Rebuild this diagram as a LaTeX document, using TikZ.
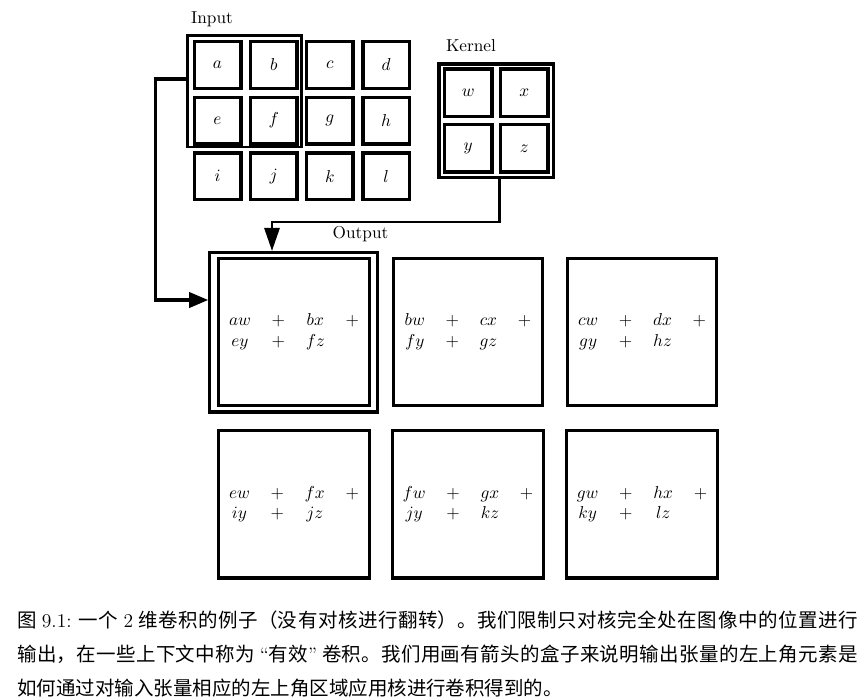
\documentclass[tikz,border=0pt]{standalone}
\usepackage{fontspec}
\newfontfamily\cjk{Noto Sans CJK SC}
\usetikzlibrary{arrows.meta}
\begin{document}
\begin{tikzpicture}[x=0.58pt,y=-0.58pt,
  cellbox/.style={draw,line width=2pt,minimum size=27pt,inner sep=0pt,font=\fontsize{10pt}{12pt}\selectfont},
  kcell/.style={draw,line width=2pt,minimum size=27.6pt,inner sep=0pt},
  hilite/.style={draw,line width=1.6pt,inner sep=0pt},
  outbox/.style={draw,line width=1.9pt,minimum width=86.2pt,minimum height=85.4pt,inner sep=0pt},
  lbl/.style={anchor=base,inner sep=0pt,font=\fontsize{10pt}{12pt}\selectfont},
  inarrow/.style={line width=1.8pt,-{Triangle[length=11pt,width=8.8pt]}},
  karrow/.style={line width=1.35pt,-{Triangle[length=13.3pt,width=8.8pt]}},
  capstyle/.style={anchor=north west,inner sep=0pt,text width=487.5pt,align=justify,
    font=\fontsize{11.3pt}{19.7pt}\selectfont\cjk}]
\useasboundingbox (0,0) rectangle (867,699);
% input cells
\node[cellbox] (a) at (217.5,65) {$a$};
\node[cellbox] (b) at (273.7,65) {$b$};
\node[cellbox] (c) at (329.9,65) {$c$};
\node[cellbox] (d) at (386.1,65) {$d$};
\node[cellbox] (e) at (217.5,120.6) {$e$};
\node[cellbox] (f) at (273.7,120.6) {$f$};
\node[cellbox] (g) at (329.9,120.6) {$g$};
\node[cellbox] (h) at (386.1,120.6) {$h$};
\node[cellbox] (i) at (217.5,176.2) {$i$};
\node[cellbox] (j) at (273.7,176.2) {$j$};
\node[cellbox] (k) at (329.9,176.2) {$k$};
\node[cellbox] (l) at (386.1,176.2) {$l$};
\node[hilite,minimum width=66.1pt,minimum height=64.6pt] (inbox) at (244.4,91.4) {};
\node[lbl] (inlbl) at (212,23.5) {Input};
% kernel
\node[kcell] (w) at (468.2,92.8) {$w$};
\node[kcell] (x) at (524.2,92.8) {$x$};
\node[kcell] (y) at (468.2,148.3) {$y$};
\node[kcell] (z) at (524.2,148.3) {$z$};
\node[draw,line width=1.9pt,minimum width=66.5pt,minimum height=65.9pt,inner sep=0pt] (kbox) at (496.2,120.7) {};
\node[lbl] (klbl) at (471,51.7) {Kernel};
% output
\node[outbox] (o11) at (294,332) {\begin{tabular}{cccc}$aw$&$+$&$bx$&$+$\\$ey$&$+$&$fz$&\end{tabular}};
\node[outbox] (o12) at (468,332) {\begin{tabular}{cccc}$bw$&$+$&$cx$&$+$\\$fy$&$+$&$gz$&\end{tabular}};
\node[outbox] (o13) at (642,332) {\begin{tabular}{cccc}$cw$&$+$&$dx$&$+$\\$gy$&$+$&$hz$&\end{tabular}};
\node[outbox] (o21) at (294,504.3) {\begin{tabular}{cccc}$ew$&$+$&$fx$&$+$\\$iy$&$+$&$jz$&\end{tabular}};
\node[outbox] (o22) at (468,504.3) {\begin{tabular}{cccc}$fw$&$+$&$gx$&$+$\\$jy$&$+$&$kz$&\end{tabular}};
\node[outbox] (o23) at (642,504.3) {\begin{tabular}{cccc}$gw$&$+$&$hx$&$+$\\$ky$&$+$&$lz$&\end{tabular}};
\node[draw,line width=1.9pt,minimum width=97.4pt,minimum height=92.4pt,inner sep=0pt] (obox) at (293.8,332.2) {};
\node[lbl] (olbl) at (360.5,238.3) {Output};
% connectors
\coordinate (inturn) at (155.7,300);
\draw[inarrow] ([yshift=7.2pt]inbox.west) -| (inturn) -- (inturn -| obox.west);
\coordinate (kturn) at (272,221.7);
\draw[karrow] ([xshift=1.9pt]kbox.south) |- (kturn) -- (kturn |- obox.north);
% caption
\node[capstyle] (cap) at (17,610.5) {\XeTeXlinebreaklocale "zh"\XeTeXlinebreakskip=0pt plus 1pt minus 0.2pt
\baselineskip=19.7pt
图 {\rmfamily 9.1:} 一个 {\rmfamily 2} 维卷积的例子（没有对核进行翻转）。我们限制只对核完全处在图像中的位置进行\linebreak
输出，在一些上下文中称为 {\rmfamily “}有效{\rmfamily ”} 卷积。我们用画有箭头的盒子来说明输出张量的左上角元素是\linebreak
如何通过对输入张量相应的左上角区域应用核进行卷积得到的。\par};
\end{tikzpicture}
\end{document}
